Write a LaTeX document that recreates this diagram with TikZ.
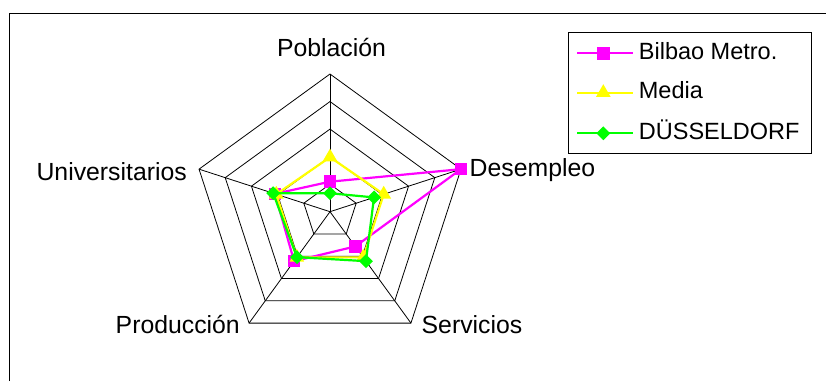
\documentclass[tikz,border=0pt]{standalone}
\usepackage{fontspec}
\setmainfont{Liberation Sans}
\usetikzlibrary{shapes.geometric}
\definecolor{cmag}{RGB}{255,0,255}
\definecolor{cyel}{RGB}{255,255,0}
\definecolor{cgrn}{RGB}{0,255,0}
\begin{document}
\begin{tikzpicture}[x=1pt,y=1pt,
  lbl/.style={inner sep=0pt, font=\fontsize{24.8}{28}\selectfont},
  leglbl/.style={inner sep=0pt, font=\fontsize{23.5}{27}\selectfont},
  gridline/.style={black, line width=0.8pt, line join=miter},
  ser/.style={line width=2.2pt, line join=round},
  legser/.style={line width=2pt},
  sq/.style={rectangle, fill=cmag, draw=none, minimum size=12.5pt, inner sep=0pt},
  tri/.style={regular polygon, regular polygon sides=3, fill=cyel, draw=none, minimum size=17pt, inner sep=0pt},
  dia/.style={diamond, fill=cgrn, draw=none, minimum size=14pt, inner sep=0pt}
]
\useasboundingbox (0,0) rectangle (826,-381);
\def\u{27.54}
% outer frame
\draw[line width=1.2pt] (9.3,-381) -- (9.3,-13.3) -- (826,-13.3);
% center
\coordinate (C) at (330,-211.7);
% grid rings
\foreach \r in {1,...,5}{
  \draw[gridline, shift={(C)}] (90:{\r*\u}) -- (18:{\r*\u}) -- (-54:{\r*\u}) -- (-126:{\r*\u}) -- (162:{\r*\u}) -- cycle;
}
% spokes
\foreach \a/\n in {90/vP,18/vD,-54/vS,-126/vR,162/vU}{
  \path (C) ++(\a:{5*\u}) coordinate (\n);
  \draw[gridline] (C) -- (\n);
}
% axis labels
\node[lbl, anchor=base] (lP) at (331.5,-56.7) {Población};
\node[lbl, anchor=base west] (lD) at (469.5,-176.5) {Desempleo};
\node[lbl, anchor=base east] (lU) at (187,-180.7) {Universitarios};
\node[lbl, anchor=base east] (lR) at (240,-333.3) {Producción};
\node[lbl, anchor=base west] (lS) at (421.5,-333.3) {Servicios};
% data points
\path (C) ++(90:{1.09*\u}) coordinate (b1);
\path (C) ++(18:{5*\u}) coordinate (b2);
\path (C) ++(-54:{1.56*\u}) coordinate (b3);
\path (C) ++(-126:{2.22*\u}) coordinate (b4);
\path (C) ++(162:{2.1*\u}) coordinate (b5);
\path (C) ++(90:{1.98*\u}) coordinate (m1);
\path (C) ++(18:{2.05*\u}) coordinate (m2);
\path (C) ++(-54:{2.05*\u}) coordinate (m3);
\path (C) ++(-126:{2.05*\u}) coordinate (m4);
\path (C) ++(162:{2.05*\u}) coordinate (m5);
\path (C) ++(90:{0.67*\u}) coordinate (d1);
\path (C) ++(18:{1.68*\u}) coordinate (d2);
\path (C) ++(-54:{2.22*\u}) coordinate (d3);
\path (C) ++(-126:{2.04*\u}) coordinate (d4);
\path (C) ++(162:{2.17*\u}) coordinate (d5);
% Bilbao
\draw[ser, cmag] (b1) -- (b2) -- (b3) -- (b4) -- (b5) -- cycle;
\foreach \p in {b1,b2,b3,b4,b5}{ \node[sq] (n\p) at (\p) {}; }
% Media
\draw[ser, cyel] (m1) -- (m2) -- (m3) -- (m4) -- (m5) -- cycle;
\foreach \p in {m1,m2,m3,m4,m5}{ \node[tri] (n\p) at (\p) {}; }
% Duesseldorf
\draw[ser, cgrn] (d1) -- (d2) -- (d3) -- (d4) -- (d5) -- cycle;
\foreach \p in {d1,d2,d3,d4,d5}{ \node[dia] (n\p) at (\p) {}; }
% legend
\draw[line width=0.9pt] (568,-32.3) rectangle (811.7,-153.3);
\coordinate (la1) at (577.3,-53.3); \coordinate (lb1) at (632.7,-53.3);
\coordinate (la2) at (577.3,-92.7); \coordinate (lb2) at (632.7,-92.7);
\coordinate (la3) at (577.3,-133.3); \coordinate (lb3) at (632.7,-133.3);
\draw[legser, cmag] (la1) -- (lb1);
\node[sq] (k1) at (603.3,-53.3) {};
\draw[legser, cyel] (la2) -- (lb2);
\node[tri] (k2) at (603.3,-92.7) {};
\draw[legser, cgrn] (la3) -- (lb3);
\node[dia] (k3) at (603.3,-133.3) {};
\node[leglbl, anchor=base west] (t1) at (638.7,-59.5) {Bilbao Metro.};
\node[leglbl, anchor=base west] (t2) at (638.7,-98.9) {Media};
\node[leglbl, anchor=base west] (t3) at (638.7,-139.5) {DÜSSELDORF};
\end{tikzpicture}
\end{document}
